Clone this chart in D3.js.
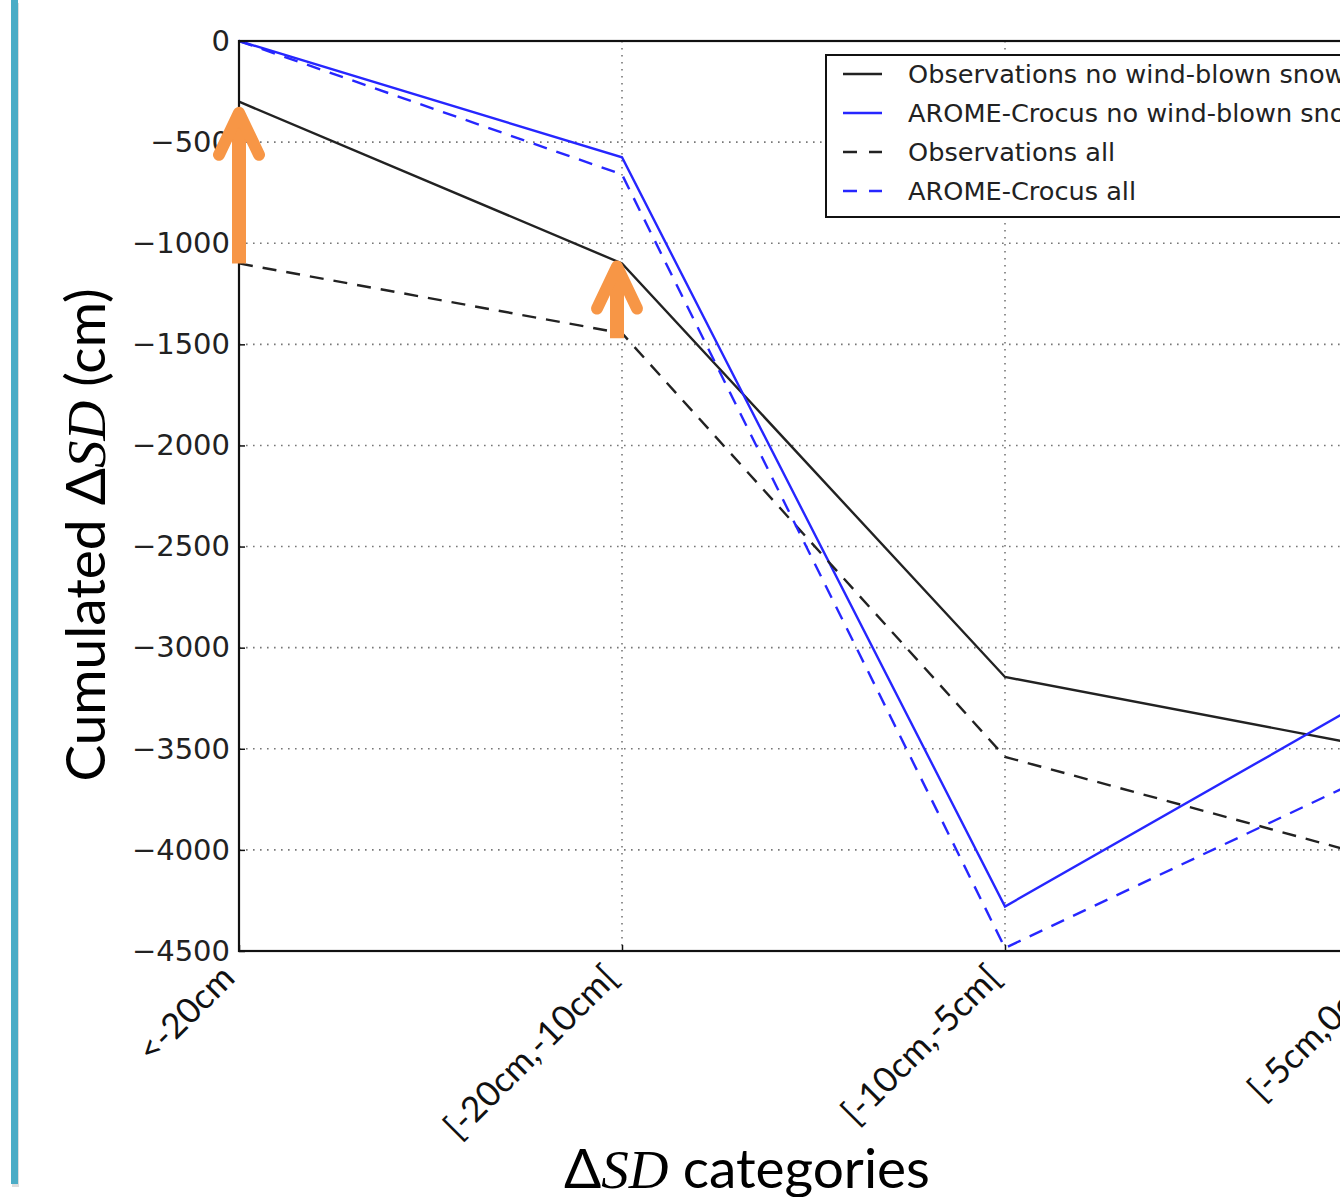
<!DOCTYPE html>
<html>
<head>
<meta charset="utf-8">
<script src="https://cdn.jsdelivr.net/npm/d3@7"></script>
<style>
  html, body { margin: 0; padding: 0; background: #fff; overflow: hidden; }
  svg { display: block; }
</style>
</head>
<body>
<svg id="chart" width="1340" height="1197"></svg>
<script>
// categories on the x axis
var categories = ['<-20cm', '[-20cm,-10cm[', '[-10cm,-5cm[', '[-5cm,0cm['];
var yTicks = [0, -500, -1000, -1500, -2000, -2500, -3000, -3500, -4000, -4500];

// cumulated values (cm)
var obsNoWind   = [-300, -1100, -3145, -3505];
var aromeNoWind = [0, -575, -4280, -3200];
var obsAll      = [-1100, -1445, -3540, -4055];
var aromeAll    = [0, -660, -4485, -3590];

// orange arrows: [category index, from value, to value]
var arrows = [[0, -1100, -355], [1, -1470, -1115]];

var legendLabels = ['Observations no wind-blown snow', 'AROME-Crocus no wind-blown snow',
                    'Observations all', 'AROME-Crocus all'];

var margin = {top: 41, left: 239};
var plotW = 1149, plotH = 910;

var svg = d3.select('#chart');

// left blue accent bar from the slide
svg.append('rect').attr('x', 12).attr('y', 3).attr('width', 7).attr('height', 1184)
    .style('fill', '#bbb').style('opacity', 0.5);
svg.append('rect').attr('x', 11).attr('y', 0).attr('width', 7).attr('height', 1184)
    .style('fill', '#4bacc6');

var g = svg.append('g').attr('transform', 'translate(' + margin.left + ',' + margin.top + ')');

var x = d3.scalePoint().domain(categories).range([0, plotW]);
var y = d3.scaleLinear().domain([-4500, 0]).range([plotH, 0]);

// grid
g.selectAll('line.hgrid').data(yTicks.slice(1, -1)).enter().append('line')
    .attr('class', 'hgrid')
    .attr('x1', 0).attr('x2', plotW)
    .attr('y1', function(d){ return y(d); }).attr('y2', function(d){ return y(d); })
    .style('stroke', '#777').style('stroke-width', 1.6).style('stroke-dasharray', '1.6,5.4');
g.selectAll('line.vgrid').data(categories.slice(1, -1)).enter().append('line')
    .attr('class', 'vgrid')
    .attr('y1', 0).attr('y2', plotH)
    .attr('x1', function(d){ return x(d); }).attr('x2', function(d){ return x(d); })
    .style('stroke', '#777').style('stroke-width', 1.6).style('stroke-dasharray', '1.6,5.4');

// series
var series = [
    {vals: obsNoWind, color: '#222', dash: null},
    {vals: aromeNoWind, color: '#2626ff', dash: null},
    {vals: obsAll, color: '#222', dash: '14,10'},
    {vals: aromeAll, color: '#2626ff', dash: '14,10'}
];
var line = d3.line()
    .x(function(d, i){ return x(categories[i]); })
    .y(function(d){ return y(d); });
g.selectAll('path.series').data(series).enter().append('path')
    .attr('class', 'series')
    .attr('d', function(s){ return line(s.vals); })
    .style('fill', 'none')
    .style('stroke', function(s){ return s.color; })
    .style('stroke-width', 2.4)
    .style('stroke-dasharray', function(s){ return s.dash; });

// axes frame
g.append('rect').attr('x', 0).attr('y', 0).attr('width', plotW).attr('height', plotH)
    .style('fill', 'none').style('stroke', '#111').style('stroke-width', 2.2);

// y axis tick labels + inner ticks
var yAxis = d3.axisLeft(y).tickValues(yTicks).tickSizeInner(-6).tickSizeOuter(0).tickPadding(10)
    .tickFormat(function(d){ return d3.format('d')(d).replace('-', '\u2212'); });
var ya = g.append('g').call(yAxis);
ya.select('.domain').remove();
ya.selectAll('line').style('stroke', '#111').style('stroke-width', 1.5);
ya.selectAll('text').style('font-family', 'DejaVu Sans').style('font-size', '29px').style('fill', '#222')
    .attr('x', -9);

// x axis tick labels (rotated)
var xAxis = d3.axisBottom(x).tickSizeInner(-6).tickSizeOuter(0).tickPadding(0);
var xa = g.append('g').attr('transform', 'translate(0,' + plotH + ')').call(xAxis);
xa.select('.domain').remove();
xa.selectAll('line').style('stroke', '#111').style('stroke-width', 1.5);
xa.selectAll('text')
    .style('font-family', 'Lato').style('font-size', '35px').style('fill', '#111')
    .style('text-anchor', 'end')
    .attr('y', 0).attr('dy', 0)
    .attr('transform', 'translate(-3,29) rotate(-45)');

// legend
var legend = svg.append('g').attr('transform', 'translate(826,55)');
legend.append('rect').attr('width', 560).attr('height', 162)
    .style('fill', '#fff').style('stroke', '#111').style('stroke-width', 2);
legendLabels.forEach(function(lbl, i){
    var ly = 19 + i * 39;
    legend.append('line').attr('x1', 17).attr('x2', 56).attr('y1', ly).attr('y2', ly)
        .style('stroke', series[i].color).style('stroke-width', 2.4)
        .style('stroke-dasharray', series[i].dash ? '14,12' : null);
    legend.append('text').attr('x', 82).attr('y', ly).attr('dy', '0.36em')
        .style('font-family', 'DejaVu Sans').style('font-size', '25.6px').style('fill', '#222')
        .text(lbl);
});

// orange arrows
var arrowG = g.append('g');
arrows.forEach(function(a){
    var ax = x(categories[a[0]]) - (a[0] === 0 ? 0 : 5);
    var y0 = y(a[1]), y1 = y(a[2]);
    arrowG.append('path')
        .attr('d', 'M' + ax + ',' + y0 + 'L' + ax + ',' + (y1 + 6))
        .style('stroke', '#f79646').style('stroke-width', 14).style('fill', 'none');
    arrowG.append('path')
        .attr('d', 'M' + (ax - 20) + ',' + (y1 + 42) + 'L' + ax + ',' + y1 + 'L' + (ax + 20) + ',' + (y1 + 42))
        .style('stroke', '#f79646').style('stroke-width', 12).style('fill', 'none')
        .style('stroke-linecap', 'round').style('stroke-linejoin', 'round');
});

// axis titles
var yl = svg.append('text')
    .attr('transform', 'translate(105,535) rotate(-90)')
    .style('text-anchor', 'middle')
    .style('font-family', 'Lato').style('font-size', '55px').style('fill', '#000');
yl.append('tspan').text('Cumulated \u0394');
yl.append('tspan').style('font-family', 'Liberation Serif').style('font-style', 'italic').text('SD');
yl.append('tspan').text(' (cm)');

var xl = svg.append('text')
    .attr('x', 747).attr('y', 1188)
    .style('text-anchor', 'middle')
    .style('font-family', 'Lato').style('font-size', '55px').style('fill', '#000');
xl.append('tspan').text('\u0394');
xl.append('tspan').style('font-family', 'Liberation Serif').style('font-style', 'italic').text('SD');
xl.append('tspan').text(' categories');
</script>
</body>
</html>
